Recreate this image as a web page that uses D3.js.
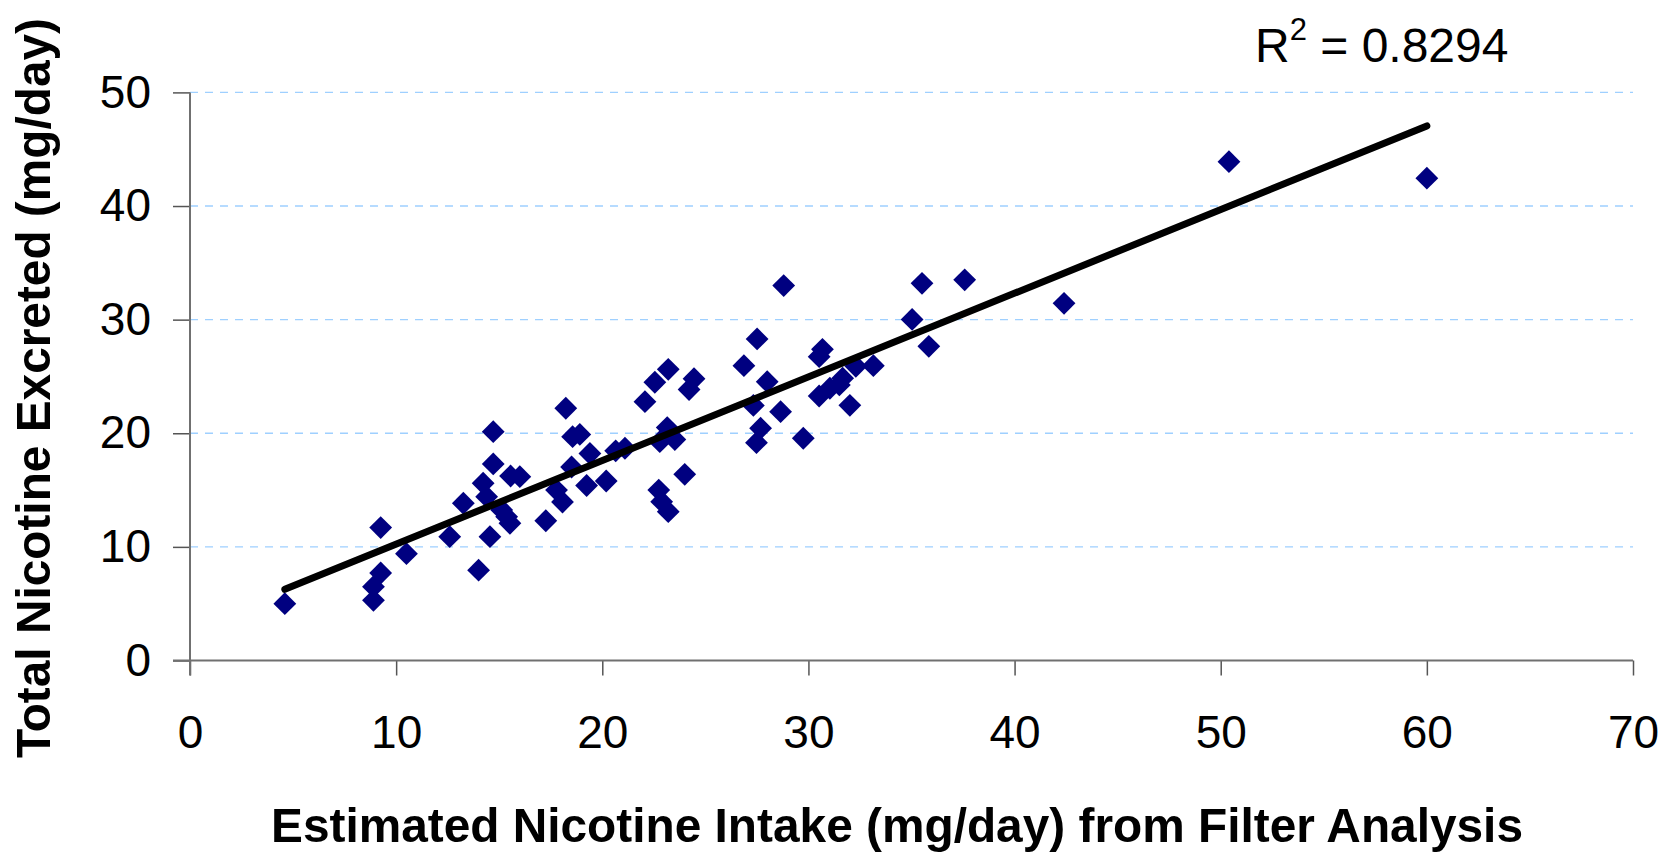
<!DOCTYPE html>
<html>
<head>
<meta charset="utf-8">
<script src="https://cdn.jsdelivr.net/npm/d3@7"></script>
<style>
  body { margin: 0; background: #fff; }
  svg { display: block; font-family: "Liberation Sans", Arial, sans-serif; }
</style>
</head>
<body>
<svg id="chart"></svg>
<script>
var width = 1665;
var height = 852;

// intake (mg/day)
var intake = [4.6, 8.9, 8.9, 9.25, 9.25, 10.5, 12.6, 14.0, 13.26, 14.22,
  14.39, 14.55, 14.71, 14.71, 15.12, 15.36, 15.52, 15.55, 16.0, 17.26,
  17.78, 18.07, 18.23, 18.51, 18.56, 18.91, 19.24, 19.4, 20.19, 20.65,
  21.1, 22.07, 22.55, 23.2, 24.21, 24.45, 23.15, 22.79, 23.52, 24.0,
  22.74, 22.88, 23.2, 26.87, 27.51, 28.0, 27.33, 28.65, 27.68, 27.48,
  29.75, 28.8, 30.68, 30.52, 30.52, 31.04, 31.5, 31.66, 32.01, 32.3,
  33.15, 35.03, 35.51, 35.84, 37.58, 42.4, 50.4, 60.0];
// excreted (mg/day)
var excreted = [5.0, 5.3, 6.5, 7.7, 11.7, 9.4, 10.9, 7.95, 13.84, 15.6,
  14.42, 10.9, 17.3, 20.14, 13.25, 12.66, 12.08, 16.24, 16.18, 12.3,
  15.0, 13.95, 22.2, 17.03, 19.7, 19.9, 15.4, 18.22, 15.8, 18.45,
  18.68, 22.78, 24.49, 25.63, 23.85, 24.8, 20.5, 19.26, 19.45, 16.39,
  15.0, 13.98, 13.1, 25.95, 28.3, 24.54, 22.45, 21.9, 20.44, 19.17,
  19.56, 33.0, 27.39, 26.74, 23.28, 23.96, 24.25, 24.84, 22.46, 25.9,
  25.95, 30.02, 33.2, 27.65, 33.5, 31.44, 43.9, 42.45];

var xTicks = [0, 10, 20, 30, 40, 50, 60, 70];
var yTicks = [0, 10, 20, 30, 40, 50];

// linear trend
var trendSlope = 0.7362;
var trendIntercept = 2.876;
var rSquaredLabel = "0.8294";

var xTitle = "Estimated Nicotine Intake (mg/day) from Filter Analysis";
var yTitle = "Total Nicotine Excreted (mg/day)";

var points = intake.map(function (x, i) {
  return { x: x, y: excreted[i] };
});

var plot = { left: 190, right: 1633, top: 92.4, bottom: 660.5 };

var xScale = d3.scaleLinear().domain([0, 70]).range([plot.left, plot.right]);
var yScale = d3.scaleLinear().domain([0, 50]).range([plot.bottom, plot.top]);

var svg = d3.select("#chart").attr("width", width).attr("height", height);

// gridlines
svg.append("g")
  .selectAll("line")
  .data(yTicks.filter(function (d) { return d > 0; }))
  .enter()
  .append("line")
  .attr("x1", plot.left)
  .attr("x2", plot.right)
  .attr("y1", function (d) { return yScale(d); })
  .attr("y2", function (d) { return yScale(d); })
  .attr("stroke", "#9fd0ff")
  .attr("stroke-width", 1.3)
  .attr("stroke-dasharray", "8,7");

// y axis
var yAxis = d3.axisLeft(yScale).tickValues(yTicks).tickSize(17).tickPadding(22);
var gy = svg.append("g")
  .attr("transform", "translate(" + plot.left + ",0)")
  .call(yAxis);
gy.select(".domain").remove();
gy.selectAll(".tick line").attr("stroke", "#555").attr("stroke-width", 1.5);
gy.selectAll(".tick text")
  .attr("font-size", 46)
  .attr("fill", "#000")
  .attr("font-family", "'Liberation Sans', Arial, sans-serif");

// x axis
var xAxis = d3.axisBottom(xScale).tickValues(xTicks).tickSize(15).tickPadding(40);
var gx = svg.append("g")
  .attr("transform", "translate(0," + plot.bottom + ")")
  .call(xAxis);
gx.select(".domain").remove();
gx.selectAll(".tick line").attr("stroke", "#555").attr("stroke-width", 1.5);
gx.selectAll(".tick text")
  .attr("font-size", 46)
  .attr("fill", "#000")
  .attr("dy", "0.71em")
  .attr("font-family", "'Liberation Sans', Arial, sans-serif");

// axis lines
svg.append("line")
  .attr("x1", plot.left).attr("x2", plot.left)
  .attr("y1", plot.top).attr("y2", plot.bottom + 15)
  .attr("stroke", "#707070").attr("stroke-width", 2);
svg.append("line")
  .attr("x1", plot.left - 17).attr("x2", plot.right)
  .attr("y1", plot.bottom).attr("y2", plot.bottom)
  .attr("stroke", "#707070").attr("stroke-width", 2);

// points
svg.append("g")
  .selectAll("path")
  .data(points)
  .enter()
  .append("path")
  .attr("d", d3.symbol().type(d3.symbolSquare).size(260))
  .attr("transform", function (d) {
    return "translate(" + xScale(d.x) + "," + yScale(d.y) + ") rotate(45)";
  })
  .attr("fill", "#000080");

// trendline
var xMin = d3.min(intake);
var xMax = d3.max(intake);
svg.append("line")
  .attr("x1", xScale(xMin))
  .attr("y1", yScale(trendSlope * xMin + trendIntercept))
  .attr("x2", xScale(xMax))
  .attr("y2", yScale(trendSlope * xMax + trendIntercept))
  .attr("stroke", "#000")
  .attr("stroke-width", 7)
  .attr("stroke-linecap", "round");

// R squared label
var rText = svg.append("text")
  .attr("x", 1255)
  .attr("y", 61.7)
  .attr("font-size", 48)
  .attr("fill", "#000");
rText.append("tspan").text("R");
rText.append("tspan").attr("font-size", 31).attr("dy", -22).text("2");
rText.append("tspan").attr("dy", 22).text(" = " + rSquaredLabel);

// axis titles
svg.append("text")
  .attr("x", 897)
  .attr("y", 842)
  .attr("text-anchor", "middle")
  .attr("font-size", 49)
  .attr("font-weight", "bold")
  .attr("textLength", 1252)
  .attr("lengthAdjust", "spacingAndGlyphs")
  .text(xTitle);

svg.append("text")
  .attr("transform", "translate(50,388) rotate(-90)")
  .attr("text-anchor", "middle")
  .attr("font-size", 49)
  .attr("font-weight", "bold")
  .attr("textLength", 740)
  .attr("lengthAdjust", "spacingAndGlyphs")
  .text(yTitle);
</script>
</body>
</html>
